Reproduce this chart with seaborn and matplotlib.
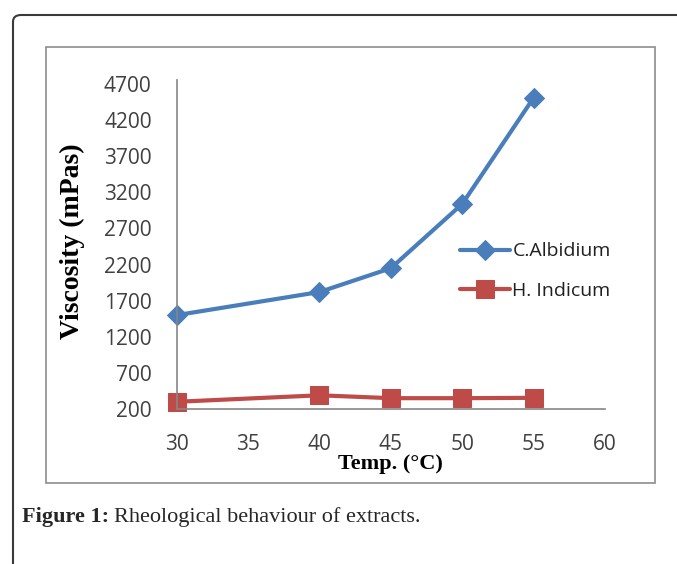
import matplotlib
matplotlib.use("Agg")
import matplotlib.pyplot as plt
from matplotlib.patches import FancyBboxPatch, Rectangle
import seaborn as sns
import pandas as pd

# data
temps = [30, 40, 45, 50, 55]
c_albidium = [1500, 1820, 2150, 3040, 4510]
h_indicum = [300, 390, 350, 350, 355]
x_ticks = [30, 35, 40, 45, 50, 55, 60]
y_ticks = [200, 700, 1200, 1700, 2200, 2700, 3200, 3700, 4200, 4700]

df = pd.DataFrame({
    "Temp": temps * 2,
    "Viscosity": c_albidium + h_indicum,
    "Extract": ["C.Albidium"] * len(temps) + ["H. Indicum"] * len(temps),
})

sns.set_style("white")
plt.rcParams["font.family"] = ["Open Sans", "DejaVu Sans"]

fig = plt.figure(figsize=(6.77, 5.64), dpi=100)
ax = fig.add_axes([0.261, 0.2748, 0.6327, 0.5826])

blue = "#4A7EBB"
red = "#BE4B48"
sns.lineplot(data=df[df.Extract == "C.Albidium"], x="Temp", y="Viscosity", ax=ax,
             color=blue, lw=3, marker="D", markersize=10, markeredgecolor=blue,
             label="C.Albidium", clip_on=False)
sns.lineplot(data=df[df.Extract == "H. Indicum"], x="Temp", y="Viscosity", ax=ax,
             color=red, lw=3, marker="s", markersize=13, markeredgecolor=red,
             label="H. Indicum", clip_on=False)

ax.set_xlim(30, 60)
ax.set_ylim(200, 4750)
ax.set_xticks(x_ticks)
ax.set_yticks(y_ticks)
for side in ["top", "right"]:
    ax.spines[side].set_visible(False)
for side in ["left", "bottom"]:
    ax.spines[side].set_color("#868686")
    ax.spines[side].set_linewidth(1.2)
ax.tick_params(axis="both", direction="out", length=6, width=1.2, color="#868686",
               labelsize=15, labelcolor="#404040", pad=12)
ax.tick_params(axis="x", pad=12)

ax.set_ylabel("Viscosity (mPas)", family="Liberation Serif", fontweight="bold",
              fontsize=20, color="black")
ax.yaxis.set_label_coords(-0.214, 0.51)
ax.set_xlabel("Temp. (\u00b0C)", family="Liberation Serif", fontweight="bold",
              fontsize=16, color="black")
ax.xaxis.set_label_coords(0.5, -0.138)

leg = ax.legend(loc="center left", bbox_to_anchor=(0.62, 0.42), frameon=False,
                fontsize=14, handlelength=2.6, handletextpad=0.1, labelspacing=1.1,
                labelcolor="#202020")

# inner chart box
fig.patches.append(Rectangle((46 / 677, 1 - 483 / 564), (655 - 46) / 677, (483 - 47) / 564,
                             transform=fig.transFigure, fill=False, ec="#8c8c8c", lw=1.2))
# outer rounded frame (continues off the right and bottom edges)
fig.patches.append(FancyBboxPatch((13 / 677, -0.2), 1.2, 1 - 15 / 564 + 0.2,
                                  boxstyle="round,pad=0,rounding_size=0.012",
                                  transform=fig.transFigure, fill=False, ec="#3a3a3a", lw=1.5))

fig.text(22 / 677, 1 - 517 / 564, "Figure 1:", family="Liberation Serif", fontweight="bold",
         fontsize=16, va="center", ha="left")
fig.text(114 / 677, 1 - 517 / 564, "Rheological behaviour of extracts.", family="Liberation Serif",
         fontsize=16, va="center", ha="left")

fig.savefig("out.png", dpi=100)
